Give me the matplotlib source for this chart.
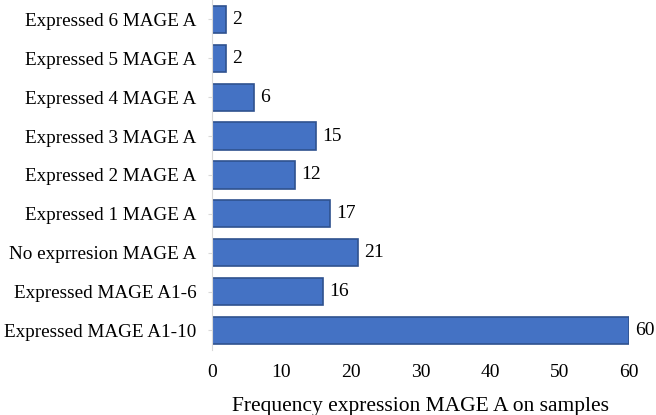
import matplotlib.pyplot as plt

categories = ['Expressed MAGE A1-10', 'Expressed MAGE A1-6', 'No exprresion MAGE A',
              'Expressed 1 MAGE A', 'Expressed 2 MAGE A', 'Expressed 3 MAGE A',
              'Expressed 4 MAGE A', 'Expressed 5 MAGE A', 'Expressed 6 MAGE A']
values = [60, 16, 21, 17, 12, 15, 6, 2, 2]
x_ticks = [0, 10, 20, 30, 40, 50, 60]

plt.rcParams['font.family'] = ['Liberation Serif', 'DejaVu Serif']

fig = plt.figure(figsize=(6.56, 4.15), dpi=100)
ax = fig.add_axes([0.323, 0.157, 0.636, 0.843])

y = range(len(categories))
ax.barh(y, values, height=0.7, color='#4472C4', edgecolor='#2F528F', linewidth=1.2)

for i, v in enumerate(values):
    ax.text(v + 0.9, i, str(v), va='center', ha='left', fontsize=14)

ax.set_yticks(list(y))
ax.set_yticklabels(categories, fontsize=13.8)
ax.set_xticks(x_ticks)
ax.set_xticklabels([str(t) for t in x_ticks], fontsize=14)
ax.set_xlim(0, 60)
ax.set_ylim(-0.5, len(categories) - 0.5)
ax.set_xlabel('Frequency expression MAGE A on samples', fontsize=15.5, labelpad=12)

for s in ['top', 'right', 'bottom']:
    ax.spines[s].set_visible(False)
ax.spines['left'].set_color('#D9D9D9')
ax.tick_params(axis='x', length=0, pad=10)
ax.tick_params(axis='y', length=3, color='#D9D9D9', pad=8)

fig.savefig('out.png', dpi=100)
